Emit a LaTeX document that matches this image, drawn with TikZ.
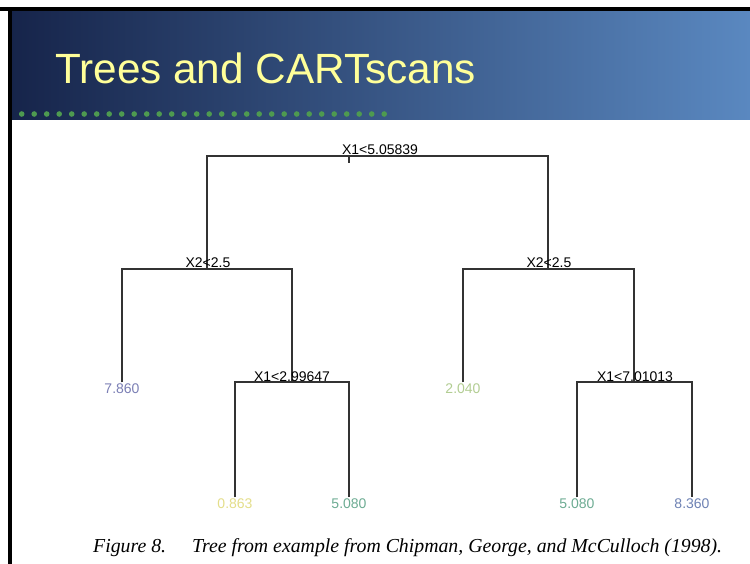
\documentclass[tikz,border=0pt]{standalone}
\usepackage{fontspec}
\setmainfont{Liberation Serif}
\setsansfont{Liberation Sans}
\definecolor{bandleft}{HTML}{16244A}
\definecolor{bandmid}{HTML}{2E4F86}
\definecolor{bandright}{HTML}{5A88C0}
\definecolor{titleyellow}{HTML}{FFFF99}
\definecolor{dotgreen}{HTML}{4E9A50}
\definecolor{treegray}{HTML}{333333}
\definecolor{leafpurple}{HTML}{7B7FB5}
\definecolor{leafgreen}{HTML}{B2CD92}
\definecolor{leafyellow}{HTML}{E4DE8A}
\definecolor{leafteal}{HTML}{6DAC93}
\definecolor{leafblue}{HTML}{6E82B4}
\tikzset{
  branch/.style={draw=treegray,line width=1.2pt},
  split/.style={font=\sffamily\fontsize{14}{14}\selectfont,anchor=base,inner sep=0pt,text=black},
  leaf/.style={font=\sffamily\fontsize{14}{14}\selectfont,inner sep=1.5pt},
}
\begin{document}
\begin{tikzpicture}[x=1pt,y=-1pt]
                \useasboundingbox (0,0) rectangle (750,564);
                \fill[white] (0,0) rectangle (750,564);
                \shade[left color=bandleft,middle color=bandmid,right color=bandright] (10,10) rectangle (750,120);
                \fill[black] (0,7) rectangle (750,11);
                \fill[black] (8,7) rectangle (12,564);
                \node[anchor=base west,inner sep=0pt,text=titleyellow,font=\sffamily\fontsize{42.3}{46}\selectfont] (title) at (55,84) {Trees and CARTscans};
                \foreach \i in {0,...,29}
                    \fill[dotgreen] (21.7+12.5*\i,114) circle[radius=2.8];
                \coordinate (k0) at (349,163);
                \coordinate (k1) at (349,156);
                \coordinate (k2) at (207,269);
                \coordinate (k3) at (548,269);
                \coordinate (k5) at (292,382);
                \coordinate (k7) at (634,382);
                \node[leaf,text=leafpurple] (v1) at (122,389) {7.860};
                \node[leaf,text=leafyellow] (v2) at (235,504) {0.863};
                \node[leaf,text=leafteal] (v3) at (349,504) {5.080};
                \node[leaf,text=leafgreen] (v4) at (463,389) {2.040};
                \node[leaf,text=leafteal] (v5) at (577,504) {5.080};
                \node[leaf,text=leafblue] (v6) at (692,504) {8.360};
                \draw[branch] (k1) -- (k0);
                \draw[branch] (k2) |- (k1) -| (k3);
                \draw[branch] (v1.north) |- (k2) -| (k5);
                \draw[branch] (v4.north) |- (k3) -| (k7);
                \draw[branch] (v2.north) |- (k5) -| (v3.north);
                \draw[branch] (v5.north) |- (k7) -| (v6.north);
                \node[split] (s1) at (380,155) {X1<5.05839};
                \node[split] (s2) at (208,268) {X2<2.5};
                \node[split] (s3) at (549,268) {X2<2.5};
                \node[split] (s5) at (292,381) {X1<2.99647};
                \node[split] (s7) at (635,381) {X1<7.01013};
                \node[anchor=base west,inner sep=0pt,font=\itshape\fontsize{19.8}{22}\selectfont] (fig) at (93,552) {Figure 8.};
                \node[anchor=base west,inner sep=0pt,font=\itshape\fontsize{19.8}{22}\selectfont] (caption) at (192,552) {Tree from example from Chipman, George, and McCulloch (1998).};
            \end{tikzpicture}
\end{document}
